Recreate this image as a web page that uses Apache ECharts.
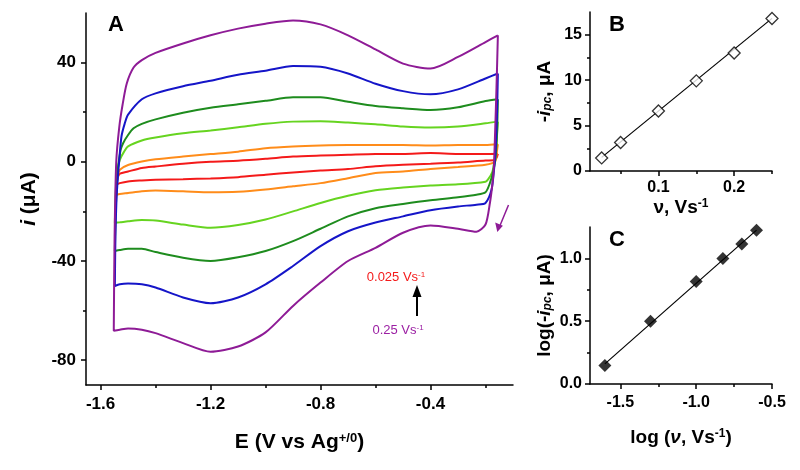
<!DOCTYPE html>
<html><head><meta charset="utf-8">
<script src="https://cdn.jsdelivr.net/npm/echarts@6/dist/echarts.min.js"></script>
<style>html,body{margin:0;padding:0;background:#fff}#c{width:800px;height:470px}</style>
</head><body><div id="c"></div>
<script>
// ---------- Panel A: cyclic voltammograms [E (V), i (uA)] in scan order ----------
const cvNames = ['0.025', '0.05', '0.1', '0.15', '0.2', '0.25'];
const cvColors = ['#f41a1a', '#ff8c1a', '#66d420', '#1e8c1e', '#1515c8', '#8e1b96'];
const cv025 = [[-0.155,3.2],[-0.16,1.5],[-0.17,0.6],[-0.2,0.5],[-0.3,-0.3],[-0.4,-0.8],[-0.5,-1.2],[-0.6,-1.8],[-0.7,-2.9],[-0.8,-3.5],[-0.9,-4.3],[-1.0,-5.2],[-1.1,-6.2],[-1.2,-6.7],[-1.3,-7.0],[-1.4,-7.2],[-1.45,-7.5],[-1.5,-7.9],[-1.53,-8.6],[-1.542,-9.2],
  [-1.538,-6.5],[-1.53,-4.8],[-1.5,-3.9],[-1.45,-2.5],[-1.4,-1.9],[-1.3,-0.8],[-1.2,0],[-1.1,0.45],[-1.0,1.2],[-0.9,2.1],[-0.8,2.5],[-0.7,2.8],[-0.6,3.1],[-0.5,3.1],[-0.4,3.5],[-0.3,3.1],[-0.2,3.1],[-0.155,3.2]];
const cv05 = [[-0.155,7.1],[-0.16,3],[-0.165,0.1],[-0.2,-1.2],[-0.3,-2.1],[-0.4,-2.9],[-0.5,-3.9],[-0.6,-4.5],[-0.7,-6.6],[-0.8,-8.6],[-0.9,-9.9],[-1.0,-11.2],[-1.1,-12.1],[-1.2,-12.3],[-1.3,-11.9],[-1.4,-11.6],[-1.45,-11.9],[-1.5,-12.6],[-1.53,-13],[-1.542,-13.3],
  [-1.54,-8],[-1.536,-5.2],[-1.53,-3.2],[-1.5,-1.3],[-1.45,0.1],[-1.4,1.0],[-1.3,2.1],[-1.2,3.1],[-1.1,4.1],[-1.0,5.5],[-0.9,6.2],[-0.8,6.6],[-0.7,6.8],[-0.6,6.8],[-0.5,6.8],[-0.4,6.6],[-0.3,6.8],[-0.2,6.8],[-0.155,7.1]];
const cv1 = [[-0.155,16.2],[-0.16,8],[-0.167,1],[-0.175,-4],[-0.19,-7],[-0.2,-8],[-0.3,-9.1],[-0.4,-9.6],[-0.5,-10.4],[-0.6,-11.5],[-0.7,-13.7],[-0.8,-16.6],[-0.9,-20],[-1.0,-23.3],[-1.1,-25.5],[-1.2,-26.6],[-1.3,-25.3],[-1.4,-23.7],[-1.45,-23.5],[-1.5,-24],[-1.53,-24.4],[-1.548,-24.6],
  [-1.545,-12],[-1.538,-3],[-1.53,0.8],[-1.515,4],[-1.5,6.2],[-1.45,8.6],[-1.4,9.8],[-1.3,11.5],[-1.2,12.6],[-1.1,13.9],[-1.0,15.3],[-0.9,16.2],[-0.8,16.4],[-0.7,15.8],[-0.6,15.1],[-0.5,14.2],[-0.4,13.8],[-0.3,14.2],[-0.2,15.5],[-0.155,16.2]];
const cv15 = [[-0.155,25.2],[-0.158,12],[-0.163,2],[-0.172,-3.9],[-0.184,-8.6],[-0.2,-12.3],[-0.233,-13.3],[-0.3,-14.3],[-0.4,-15.5],[-0.5,-17],[-0.6,-18.7],[-0.7,-22],[-0.8,-27],[-0.9,-32],[-1.0,-36],[-1.1,-38.5],[-1.2,-40],[-1.3,-38.7],[-1.4,-36.4],[-1.45,-35.1],[-1.5,-35.1],[-1.53,-35.6],[-1.548,-36],
  [-1.545,-20],[-1.54,-8],[-1.536,-1.9],[-1.527,4.8],[-1.518,7.5],[-1.5,10.8],[-1.48,13.5],[-1.45,15.3],[-1.4,17.1],[-1.3,19.8],[-1.2,21.8],[-1.1,23.2],[-1.0,24.6],[-0.9,26],[-0.8,26],[-0.7,24.2],[-0.6,22.5],[-0.5,21.6],[-0.4,20.9],[-0.3,22],[-0.2,24.5],[-0.155,25.2]];
const cv2 = [[-0.155,35.6],[-0.158,20],[-0.163,5],[-0.169,-3.2],[-0.178,-11.2],[-0.2,-16.6],[-0.233,-17.3],[-0.3,-18],[-0.4,-19.5],[-0.5,-22],[-0.6,-24.5],[-0.7,-28],[-0.8,-34],[-0.9,-42],[-1.0,-49.4],[-1.1,-54.7],[-1.2,-57],[-1.3,-54.7],[-1.4,-50.7],[-1.45,-49.4],[-1.5,-49.1],[-1.53,-49.4],[-1.548,-50.1],
  [-1.546,-30],[-1.542,-15],[-1.537,-6],[-1.532,0.8],[-1.524,10.2],[-1.512,15.5],[-1.5,19],[-1.45,25.2],[-1.4,27.6],[-1.3,30.5],[-1.2,32.7],[-1.1,35.1],[-1.0,36.7],[-0.9,38.6],[-0.8,38.3],[-0.7,35.6],[-0.6,31.5],[-0.5,28.5],[-0.4,27.2],[-0.3,29.2],[-0.2,33.6],[-0.155,35.6]];
const cv25 = [[-0.155,51],[-0.16,30],[-0.165,12],[-0.17,-3],[-0.176,-10],[-0.184,-16.6],[-0.2,-25.3],[-0.233,-28.2],[-0.3,-27],[-0.4,-25.7],[-0.5,-28.6],[-0.6,-34.7],[-0.7,-40],[-0.8,-48.7],[-0.9,-58.1],[-1.0,-68.8],[-1.1,-74.5],[-1.2,-76.6],[-1.3,-73.1],[-1.4,-69.1],[-1.45,-67.7],[-1.5,-67.2],[-1.53,-67.7],[-1.552,-68.1],
  [-1.549,-30],[-1.543,0],[-1.532,14],[-1.52,23],[-1.505,31.5],[-1.48,38],[-1.45,41],[-1.4,43.9],[-1.3,47.7],[-1.2,51],[-1.1,53.7],[-1.0,55.7],[-0.9,57],[-0.8,55.4],[-0.7,51],[-0.6,45.3],[-0.5,39.6],[-0.4,37.6],[-0.3,42.3],[-0.2,48.3],[-0.155,51]];
const cvData = [cv025, cv05, cv1, cv15, cv2, cv25];

// ---------- Panel B: -ipc vs scan rate ----------
const scanRate = [0.025, 0.05, 0.1, 0.15, 0.2, 0.25];
const ipc = [1.44, 3.14, 6.6, 9.92, 12.99, 16.78];
const fitB = [[0.025, 1.5], [0.25, 16.8]];

// ---------- Panel C: log-log ----------
const logRate = [-1.602, -1.301, -1.0, -0.824, -0.699, -0.602];
const logIpc = [0.147, 0.50, 0.816, 1.0, 1.114, 1.224];
const fitC = [[-1.602, 0.16], [-0.602, 1.225]];

// ---------- Axis ticks ----------
const aXLabels = [-1.6, -1.2, -0.8, -0.4], aXMinor = [-1.4, -1.0, -0.6, -0.2];
const aYLabels = [40, 0, -40, -80], aYMinor = [20, -20, -60];
const bXLabels = [0.1, 0.2], bXMinor = [0.05, 0.15, 0.25];
const bYLabels = [0, 5, 10, 15], bYMinor = [2.5, 7.5, 12.5];
const cXLabels = [-1.5, -1.0, -0.5], cXMinor = [-1.25, -0.75];
const cYLabels = [0, 0.5, 1.0], cYMinor = [0.25, 0.75];

const FONT = '"Liberation Sans", Arial, sans-serif';
const lbl = (size, margin, fmt) => ({ fontFamily: FONT, fontWeight: 'bold', fontSize: size, color: '#000', margin, formatter: fmt });
const rich = (s) => ({
  b: { fontFamily: FONT, fontWeight: 'bold', fontSize: s, color: '#000' },
  bi: { fontFamily: FONT, fontWeight: 'bold', fontStyle: 'italic', fontSize: s, color: '#000' },
  sup: { fontFamily: FONT, fontWeight: 'bold', fontSize: Math.round(s * 0.62), color: '#000', verticalAlign: 'top' },
  sub: { fontFamily: FONT, fontWeight: 'bold', fontStyle: 'italic', fontSize: Math.round(s * 0.65), color: '#000', verticalAlign: 'bottom' }
});
function majorAxis(gridIndex, pos, min, max, labels, size, margin, fmt, name, nameGap, nameSize) {
  return {
    type: 'value', gridIndex, position: pos, min, max,
    axisLine: { show: true, onZero: false, lineStyle: { color: '#000', width: 1.5 } },
    axisTick: { show: true, inside: false, length: 5, customValues: labels, lineStyle: { color: '#000', width: 1.5 } },
    axisLabel: Object.assign({ customValues: labels }, lbl(size, margin, fmt)),
    splitLine: { show: false },
    name, nameLocation: 'middle', nameGap, nameTextStyle: { rich: rich(nameSize) }
  };
}
function minorAxis(gridIndex, pos, min, max, ticks) {
  return {
    type: 'value', gridIndex, position: pos, min, max,
    axisLine: { show: false, onZero: false },
    axisTick: { show: true, inside: false, length: 3, customValues: ticks, lineStyle: { color: '#000', width: 1.5 } },
    axisLabel: { show: false }, splitLine: { show: false }
  };
}
const f1 = v => v.toFixed(1);
const f0 = v => String(v);

const series = [];
cvData.forEach((d, k) => series.push({
  type: 'line', name: cvNames[k], xAxisIndex: 0, yAxisIndex: 0, data: d, showSymbol: false,
  smooth: 0.25, lineStyle: { color: cvColors[k], width: 2 }, z: 2 + k
}));
series.push({ type: 'line', xAxisIndex: 2, yAxisIndex: 2, data: fitB, showSymbol: false, lineStyle: { color: '#000', width: 1.2 } });
series.push({ type: 'scatter', xAxisIndex: 2, yAxisIndex: 2, data: scanRate.map((v, i) => [v, ipc[i]]),
  symbol: 'diamond', symbolSize: 12, itemStyle: { color: '#fff', borderColor: '#000', borderWidth: 1.3 }, z: 5 });
series.push({ type: 'line', xAxisIndex: 4, yAxisIndex: 4, data: fitC, showSymbol: false, lineStyle: { color: '#000', width: 1.2 } });
series.push({ type: 'scatter', xAxisIndex: 4, yAxisIndex: 4, data: logRate.map((v, i) => [v, logIpc[i]]),
  symbol: 'diamond', symbolSize: 13, itemStyle: { color: '#000' }, z: 5 });

const option = {
  backgroundColor: '#fff',
  animation: false,
  grid: [
    { left: 86, top: 13, width: 427, height: 372 },
    { left: 590, top: 12, width: 182, height: 159 },
    { left: 590, top: 227, width: 182, height: 157 }
  ],
  xAxis: [
    majorAxis(0, 'bottom', -1.653, -0.1, aXLabels, 17, 11, f1, '{b|E (V vs Ag}{sup|+/0}{b|)}', 47, 21),
    minorAxis(0, 'bottom', -1.653, -0.1, aXMinor),
    majorAxis(1, 'bottom', 0.0096, 0.25, bXLabels, 16, 9, f1, '{b|ν, Vs}{sup|-1}', 27, 19),
    minorAxis(1, 'bottom', 0.0096, 0.25, bXMinor),
    majorAxis(2, 'bottom', -1.7, -0.5, cXLabels, 16, 11, f1, '{b|log (}{bi|ν}{b|, Vs}{sup|-1}{b|)}', 44, 19),
    minorAxis(2, 'bottom', -1.7, -0.5, cXMinor)
  ],
  yAxis: [
    majorAxis(0, 'left', -90, 60, aYLabels, 17, 10, f0, '{bi|i}{b| (μA)}', 46, 21),
    minorAxis(0, 'left', -90, 60, aYMinor),
    majorAxis(1, 'left', 0, 17.5, bYLabels, 16, 8, f0, '{b|-}{bi|i}{sub|pc}{b|, μA}', 36, 19),
    minorAxis(1, 'left', 0, 17.5, bYMinor),
    majorAxis(2, 'left', 0, 1.25, cYLabels, 16, 8, f1, '{b|log(-}{bi|i}{sub|pc}{b|, μA)}', 36, 19),
    minorAxis(2, 'left', 0, 1.25, cYMinor)
  ],
  series,
  graphic: [
    { type: 'text', left: 108, top: 14, style: { text: 'A', font: 'bold 22px ' + FONT, fill: '#000' } },
    { type: 'text', left: 609, top: 14, style: { text: 'B', font: 'bold 22px ' + FONT, fill: '#000' } },
    { type: 'text', left: 609, top: 229, style: { text: 'C', font: 'bold 22px ' + FONT, fill: '#000' } },
    { type: 'text', x: 396, y: 277, style: { text: '{t|0.025 Vs}{s|-1}', align: 'center', verticalAlign: 'middle',
      rich: { t: { fontFamily: FONT, fontSize: 13, fill: '#f41a1a' }, s: { fontFamily: FONT, fontSize: 8, fill: '#f41a1a', verticalAlign: 'top' } } } },
    { type: 'text', x: 398, y: 330, style: { text: '{t|0.25 Vs}{s|-1}', align: 'center', verticalAlign: 'middle',
      rich: { t: { fontFamily: FONT, fontSize: 13, fill: '#9b1fa3' }, s: { fontFamily: FONT, fontSize: 8, fill: '#9b1fa3', verticalAlign: 'top' } } } },
    { type: 'line', shape: { x1: 417, y1: 316, x2: 417, y2: 294 }, style: { stroke: '#000', lineWidth: 2 } },
    { type: 'polygon', shape: { points: [[417, 285], [412.5, 297], [421.5, 297]] }, style: { fill: '#000' } },
    { type: 'line', shape: { x1: 508.5, y1: 205, x2: 499.6, y2: 226.5 }, style: { stroke: '#8e1b96', lineWidth: 1.5 } },
    { type: 'polygon', shape: { points: [[497.3, 232], [495.2, 222.6], [502.9, 225.8]] }, style: { fill: '#8e1b96' } }
  ]
};
const chart = echarts.init(document.getElementById('c'), null, { renderer: 'canvas' });
chart.setOption(option);
</script></body></html>
